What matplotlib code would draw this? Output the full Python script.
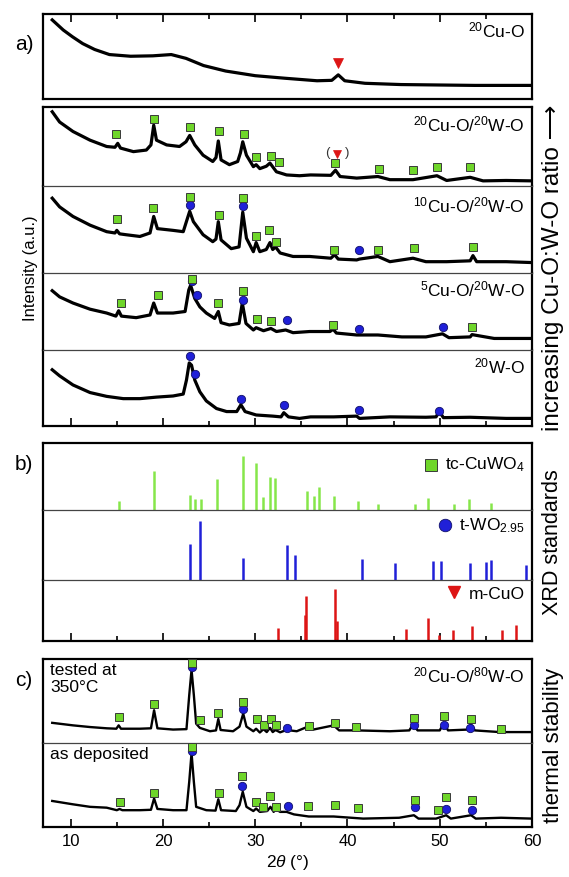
import numpy as np
import matplotlib
matplotlib.use('Agg')
import matplotlib.pyplot as plt
from matplotlib.ticker import MultipleLocator

plt.rcParams['font.family'] = ['Liberation Sans', 'DejaVu Sans']
plt.rcParams['mathtext.fontset'] = 'custom'
plt.rcParams['mathtext.rm'] = 'Liberation Sans'
plt.rcParams['mathtext.it'] = 'Liberation Sans:italic'
plt.rcParams['mathtext.default'] = 'regular'

# ---- measured patterns (2theta, normalised intensity in each sub-panel) ----
a_tt = [8.0, 8.5, 9.2, 10.2, 11.3, 12.6, 14.2, 16.5, 18.9, 20.9, 22.5, 24.4, 26.8,
        30.0, 33.2, 36.7, 38.3, 39.0, 39.7, 41.9, 45.8, 49.8, 53.8, 60.0]
a_I = [0.93, 0.88, 0.81, 0.73, 0.65, 0.58, 0.52, 0.50, 0.505, 0.52, 0.475, 0.39, 0.325,
       0.27, 0.24, 0.21, 0.215, 0.28, 0.21, 0.18, 0.165, 0.16, 0.155, 0.155]

s1_tt = [8.0, 8.8, 10.25, 12.1, 13.9, 14.8, 15.1, 15.4, 16.8, 18.2, 18.7, 19.0, 19.3, 20.4,
         21.8, 22.5, 22.9, 23.45, 24.35, 25.4, 25.75, 26.0, 26.3, 27.2, 28.1, 28.4, 28.65,
         29.05, 29.8, 30.1, 30.5, 31.2, 31.6, 32.3, 33.4, 34.8, 36.0, 38.2, 38.7, 39.2,
         41.0, 43.3, 44.6, 47.1, 49.7, 50.75, 53.3, 54.7, 57.2, 60.0]
s1_I = [0.94, 0.81, 0.69, 0.58, 0.50, 0.49, 0.54, 0.48, 0.435, 0.455, 0.52, 0.77, 0.58, 0.52,
        0.50, 0.56, 0.64, 0.52, 0.39, 0.31, 0.36, 0.57, 0.33, 0.27, 0.31, 0.42, 0.56,
        0.39, 0.245, 0.27, 0.22, 0.25, 0.29, 0.18, 0.14, 0.13, 0.14, 0.135, 0.20, 0.12,
        0.10, 0.12, 0.08, 0.08, 0.13, 0.07, 0.11, 0.065, 0.07, 0.065]

s2_tt = [8.0, 8.8, 10.25, 12.1, 13.9, 14.8, 15.0, 15.3, 16.0, 17.5, 18.6, 19.0, 19.4, 21.1,
         22.2, 22.6, 22.9, 23.3, 24.35, 25.4, 25.75, 26.0, 26.3, 27.4, 28.25, 28.65, 29.05,
         29.8, 30.1, 30.5, 31.2, 31.6, 31.9, 32.2, 32.7, 34.1, 35.9, 38.2, 38.6, 39.0,
         41.0, 41.3, 43.3, 44.6, 47.1, 48.5, 50.75, 53.3, 53.6, 54.0, 57.2, 60.0]
s2_I = [0.86, 0.76, 0.65, 0.55, 0.475, 0.46, 0.49, 0.45, 0.44, 0.42, 0.46, 0.65, 0.51, 0.49,
        0.475, 0.61, 0.71, 0.59, 0.44, 0.36, 0.39, 0.59, 0.38, 0.28, 0.30, 0.70, 0.40,
        0.245, 0.35, 0.245, 0.27, 0.35, 0.27, 0.30, 0.23, 0.19, 0.19, 0.17, 0.21, 0.16,
        0.15, 0.16, 0.19, 0.13, 0.17, 0.13, 0.13, 0.14, 0.20, 0.13, 0.13, 0.12]

s3_tt = [8.0, 8.8, 10.25, 12.1, 13.9, 14.9, 15.2, 15.5, 17.1, 18.6, 19.0, 19.4, 21.1, 22.4,
         22.8, 23.0, 23.45, 24.0, 24.7, 25.6, 26.0, 26.3, 27.2, 28.25, 28.6, 29.0, 29.8,
         30.1, 30.9, 31.7, 32.3, 33.3, 34.1, 35.9, 38.1, 38.45, 38.8, 41.0, 43.3, 45.9,
         48.5, 50.3, 51.0, 53.3, 53.5, 55.9, 60.0]
s3_I = [0.77, 0.69, 0.61, 0.53, 0.48, 0.44, 0.51, 0.44, 0.42, 0.455, 0.61, 0.48, 0.48, 0.50,
        0.78, 0.84, 0.67, 0.56, 0.48, 0.41, 0.50, 0.355, 0.325, 0.345, 0.61, 0.345, 0.26,
        0.29, 0.25, 0.28, 0.24, 0.26, 0.225, 0.24, 0.24, 0.27, 0.22, 0.195, 0.195, 0.17,
        0.17, 0.21, 0.16, 0.17, 0.20, 0.15, 0.15]

s4_tt = [8.0, 8.8, 10.25, 12.1, 13.9, 15.7, 17.5, 19.3, 21.1, 22.2, 22.55, 22.85, 23.1,
         23.45, 24.0, 24.7, 25.8, 26.9, 28.0, 28.45, 28.9, 30.1, 31.9, 32.8, 33.1, 33.6,
         34.8, 36.0, 38.5, 41.0, 41.3, 44.6, 48.5, 49.6, 49.95, 50.4, 53.3, 57.2, 60.0]
s4_I = [0.74, 0.66, 0.54, 0.44, 0.39, 0.36, 0.36, 0.38, 0.395, 0.42, 0.605, 0.83, 0.80,
        0.605, 0.45, 0.33, 0.23, 0.19, 0.19, 0.28, 0.19, 0.145, 0.13, 0.12, 0.175, 0.12,
        0.10, 0.12, 0.12, 0.13, 0.10, 0.12, 0.115, 0.12, 0.19, 0.11, 0.115, 0.10, 0.10]

c1_tt = [8.0, 10.25, 12.1, 13.9, 14.95, 15.2, 15.45, 17.5, 18.7, 19.04, 19.4, 21.1, 22.55,
         22.85, 23.1, 23.35, 23.6, 24.0, 25.1, 25.75, 26.0, 26.25, 27.6, 28.3, 28.7, 29.05,
         29.8, 30.1, 30.5, 30.9, 31.25, 31.6, 31.9, 32.2, 32.7, 33.4, 34.5, 35.6, 36.3,
         38.5, 39.1, 41.0, 44.6, 46.7, 47.1, 47.6, 50.0, 50.45, 50.9, 53.1, 53.4, 53.8,
         56.5, 60.0]
c1_I = [0.24, 0.21, 0.19, 0.175, 0.17, 0.21, 0.17, 0.17, 0.175, 0.39, 0.175, 0.16, 0.165,
        0.57, 0.87, 0.57, 0.23, 0.18, 0.14, 0.15, 0.285, 0.155, 0.14, 0.195, 0.35, 0.195,
        0.14, 0.17, 0.125, 0.165, 0.13, 0.18, 0.13, 0.155, 0.127, 0.155, 0.14, 0.19, 0.16,
        0.21, 0.15, 0.15, 0.14, 0.15, 0.22, 0.15, 0.15, 0.24, 0.15, 0.16, 0.22, 0.15,
        0.13, 0.13]

c2_tt = [8.0, 10.25, 12.1, 13.9, 15.0, 15.3, 15.6, 17.5, 18.7, 19.04, 19.4, 21.1, 22.55,
         22.85, 23.1, 23.35, 23.6, 24.7, 25.7, 26.0, 26.3, 27.9, 28.3, 28.65, 29.05, 29.8,
         30.1, 30.5, 31.3, 31.65, 32.0, 32.2, 32.7, 33.4, 34.2, 35.8, 38.5, 41.7, 45.6,
         47.2, 47.7, 49.6, 50.7, 51.2, 53.4, 53.9, 56.65, 60.0]
c2_I = [0.31, 0.27, 0.24, 0.23, 0.20, 0.215, 0.20, 0.20, 0.205, 0.34, 0.215, 0.20, 0.20,
        0.54, 0.88, 0.54, 0.24, 0.20, 0.195, 0.33, 0.20, 0.19, 0.26, 0.42, 0.24, 0.19,
        0.22, 0.18, 0.19, 0.24, 0.18, 0.215, 0.18, 0.18, 0.15, 0.125, 0.125, 0.10, 0.11,
        0.14, 0.10, 0.10, 0.14, 0.10, 0.14, 0.10, 0.11, 0.10]

# ---- phase markers (2theta, height) ----
a_tri = [(39.0, 0.42)]
s1_sq = [(14.9, 0.655), (19.0, 0.85), (22.95, 0.75), (26.1, 0.70), (28.8, 0.66), (30.1, 0.37),
         (31.7, 0.385), (32.6, 0.31), (38.7, 0.29), (43.4, 0.215), (47.1, 0.20), (49.7, 0.24),
         (53.3, 0.24)]
s1_tri = [(38.9, 0.41)]
s2_sq = [(15.0, 0.62), (18.9, 0.75), (22.9, 0.87), (26.05, 0.67), (28.7, 0.86), (30.1, 0.425),
         (31.5, 0.49), (32.3, 0.36), (38.56, 0.27), (43.3, 0.26), (47.2, 0.29), (53.6, 0.295)]
s2_ci = [(22.9, 0.78), (28.7, 0.77), (41.2, 0.26)]
s3_sq = [(15.4, 0.61), (19.45, 0.71), (23.1, 0.92), (26.0, 0.61), (28.7, 0.76), (30.2, 0.40),
         (31.7, 0.38), (38.45, 0.33), (53.45, 0.295)]
s3_ci = [(23.1, 0.89), (23.7, 0.71), (28.7, 0.65), (33.4, 0.39), (41.2, 0.27), (50.3, 0.295)]
s4_ci = [(22.9, 0.92), (23.5, 0.69), (28.45, 0.36), (33.1, 0.27), (41.2, 0.21), (49.95, 0.20)]
c1_sq = [(15.24, 0.31), (19.04, 0.46), (23.16, 0.95), (24.06, 0.27), (26.0, 0.36), (28.7, 0.49),
         (30.2, 0.29), (30.9, 0.21), (31.7, 0.29), (32.3, 0.21), (35.8, 0.20), (38.6, 0.24),
         (40.95, 0.19), (47.2, 0.30), (50.5, 0.325), (53.4, 0.29), (56.6, 0.17)]
c1_ci = [(23.16, 0.90), (28.7, 0.40), (33.4, 0.18), (47.2, 0.21), (50.5, 0.21), (53.3, 0.18)]
c2_sq = [(15.35, 0.30), (19.05, 0.41), (23.1, 0.955), (26.05, 0.40), (28.6, 0.61), (30.1, 0.30),
         (30.85, 0.24), (31.6, 0.365), (32.25, 0.24), (35.7, 0.245), (38.7, 0.26), (41.1, 0.23),
         (47.3, 0.32), (49.8, 0.20), (50.7, 0.355), (53.5, 0.32)]
c2_ci = [(23.1, 0.905), (28.55, 0.485), (33.5, 0.255), (47.3, 0.235), (50.7, 0.22), (53.5, 0.205)]

# ---- reference patterns (2theta, relative intensity %) ----
cuwo4_tt = [15.24, 19.0, 22.9, 23.5, 24.1, 25.9, 28.7, 30.1, 30.8, 31.6, 32.1, 35.6, 36.4,
            36.9, 38.5, 41.1, 43.3, 47.3, 48.7, 51.5, 53.2, 55.6]
cuwo4_I = [13, 58, 23, 16, 16, 46, 81, 70, 19, 50, 48, 29, 21, 34, 21, 13, 9, 9, 18, 9, 16, 11]
wo3_tt = [22.9, 24.06, 28.65, 33.4, 34.3, 41.6, 45.2, 49.3, 50.1, 53.3, 55.0, 55.6, 59.3]
wo3_I = [52, 85, 32, 50, 36, 30, 25, 27, 27, 24, 26, 28, 21]
cuo_tt = [32.5, 35.4, 35.55, 38.7, 38.9, 46.3, 48.7, 49.95, 51.4, 53.5, 56.7, 58.3]
cuo_I = [22, 43, 73, 86, 33, 19, 37, 10, 18, 25, 18, 27]

GREEN = '#6fd62a'
GREEN_STICK = '#86e64a'
BLUE = '#2020d8'
RED = '#dd1515'

W_PX, H_PX = 569, 877
L_PX, R_PX = 43, 532
fig = plt.figure(figsize=(W_PX / 100, H_PX / 100), dpi=100)


def make_group(bounds, ylim=(0, 1)):
    axes = []
    n = len(bounds) - 1
    for i in range(n):
        top, bot = bounds[i], bounds[i + 1]
        ax = fig.add_axes([L_PX / W_PX, 1 - bot / H_PX, (R_PX - L_PX) / W_PX, (bot - top) / H_PX])
        ax.set_xlim(7, 60)
        ax.set_ylim(*ylim)
        ax.set_yticks([])
        ax.xaxis.set_major_locator(MultipleLocator(10))
        ax.xaxis.set_minor_locator(MultipleLocator(5))
        ax.tick_params(which='both', direction='in', bottom=False, top=False,
                       labelbottom=False, width=1.2)
        ax.tick_params(which='major', length=6)
        ax.tick_params(which='minor', length=3.5)
        for s in ax.spines.values():
            s.set_linewidth(1.6)
        if i > 0:
            ax.spines['top'].set_linewidth(0.9)
            ax.spines['top'].set_color('#444444')
        if i < n - 1:
            ax.spines['bottom'].set_visible(False)
        axes.append(ax)
    return axes


def curve(ax, tt, I, lw=2.3):
    ax.plot(tt, I, color='black', lw=lw, solid_joinstyle='round')


def squares(ax, pts, ms=6.4):
    x, y = zip(*pts)
    ax.plot(x, y, 's', ms=ms, mfc=GREEN, mec='#3a3a3a', mew=0.7, zorder=6)


def circles(ax, pts, ms=6.0):
    x, y = zip(*pts)
    ax.plot(x, y, 'o', ms=ms, mfc=BLUE, mec='#10106a', mew=0.6, zorder=5)


def triangles(ax, pts, ms=6.5):
    x, y = zip(*pts)
    ax.plot(x, y, 'v', ms=ms, mfc=RED, mec=RED, mew=0.5, zorder=5)


def label(ax, txt, y=0.78):
    ax.text(0.985, y, txt, transform=ax.transAxes, ha='right', va='center', fontsize=12.5)


# panel a
(ax_a,) = make_group([14, 98.5])
ax_a.tick_params(which='both', top=True)
curve(ax_a, a_tt, a_I)
triangles(ax_a, a_tri)
label(ax_a, r'$^{20}$Cu-O', y=0.80)

# stacked composition series
s_axes = make_group([107, 186, 273, 350, 426])
for ax, tt, I in zip(s_axes, [s1_tt, s2_tt, s3_tt, s4_tt], [s1_I, s2_I, s3_I, s4_I]):
    curve(ax, tt, I)
squares(s_axes[0], s1_sq)
triangles(s_axes[0], s1_tri, ms=6)
s_axes[0].text(s1_tri[0][0], s1_tri[0][1] + 0.01, '(    )', ha='center', va='center',
               fontsize=9.5, color='#333333')
squares(s_axes[1], s2_sq)
circles(s_axes[1], s2_ci)
circles(s_axes[2], s3_ci)
squares(s_axes[2], s3_sq)
circles(s_axes[3], s4_ci)
label(s_axes[0], r'$^{20}$Cu-O/$^{20}$W-O')
label(s_axes[1], r'$^{10}$Cu-O/$^{20}$W-O')
label(s_axes[2], r'$^{5}$Cu-O/$^{20}$W-O')
label(s_axes[3], r'$^{20}$W-O')
s_axes[3].tick_params(which='both', bottom=True)

# reference sticks
b_axes = make_group([443, 510, 580, 641], ylim=(0, 100))
b_axes[0].vlines(cuwo4_tt, 0, cuwo4_I, color=GREEN_STICK, lw=1.8)
b_axes[1].vlines(wo3_tt, 0, wo3_I, color=BLUE, lw=1.8)
b_axes[2].vlines(cuo_tt, 0, cuo_I, color=RED, lw=1.8)
b_axes[2].tick_params(which='both', bottom=True)
b_axes[0].plot([49.1], [67], 's', ms=9, mfc=GREEN, mec='#3a3a3a', mew=0.7)
b_axes[0].text(0.985, 0.67, r'tc-CuWO$_4$', transform=b_axes[0].transAxes,
               ha='right', va='center', fontsize=12.5)
b_axes[1].plot([50.6], [78], 'o', ms=9, mfc=BLUE, mec='#10106a', mew=0.6)
b_axes[1].text(0.985, 0.78, r't-WO$_{2.95}$', transform=b_axes[1].transAxes,
               ha='right', va='center', fontsize=12.5)
b_axes[2].plot([51.6], [80], 'v', ms=9, mfc=RED, mec=RED)
b_axes[2].text(0.985, 0.77, 'm-CuO', transform=b_axes[2].transAxes,
               ha='right', va='center', fontsize=12.5)

# thermal stability
c_axes = make_group([659, 743, 827])
curve(c_axes[0], c1_tt, c1_I, lw=1.7)
curve(c_axes[1], c2_tt, c2_I, lw=1.7)
circles(c_axes[0], c1_ci)
squares(c_axes[0], c1_sq)
circles(c_axes[1], c2_ci)
squares(c_axes[1], c2_sq)
label(c_axes[0], r'$^{20}$Cu-O/$^{80}$W-O', y=0.80)
c_axes[0].text(0.015, 0.95, 'tested at\n350°C', transform=c_axes[0].transAxes,
               ha='left', va='top', fontsize=12.5, linespacing=1.15)
c_axes[1].text(0.015, 0.95, 'as deposited', transform=c_axes[1].transAxes,
               ha='left', va='top', fontsize=12.5)
c_axes[1].tick_params(which='both', bottom=True, labelbottom=True, labelsize=12, pad=5)
c_axes[1].set_xlabel(r'2$\it{\theta}$ (°)', fontsize=12.5, labelpad=3)

# figure annotations
fig.text(15 / W_PX, 1 - 45 / H_PX, 'a)', fontsize=15, va='center')
fig.text(15 / W_PX, 1 - 465 / H_PX, 'b)', fontsize=15, va='center')
fig.text(15 / W_PX, 1 - 680 / H_PX, 'c)', fontsize=15, va='center')
fig.text(30 / W_PX, 1 - 268 / H_PX, 'Intensity (a.u.)', rotation=90, ha='center',
         va='center', fontsize=12)
fig.text(553 / W_PX, 1 - 268 / H_PX, 'increasing Cu-O:W-O ratio \u27f6', rotation=90,
         ha='center', va='center', fontsize=17.5)
fig.text(553 / W_PX, 1 - 542 / H_PX, 'XRD standards', rotation=90, ha='center',
         va='center', fontsize=15.5)
fig.text(553 / W_PX, 1 - 745 / H_PX, 'thermal stability', rotation=90, ha='center',
         va='center', fontsize=16)

fig.savefig('out.png', dpi=100)
